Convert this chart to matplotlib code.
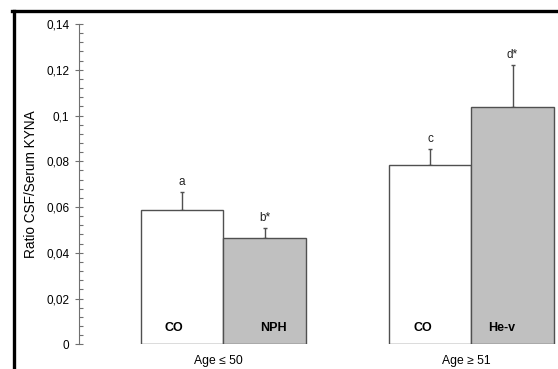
import matplotlib.pyplot as plt
from matplotlib.lines import Line2D
from matplotlib.ticker import MultipleLocator, FuncFormatter

plt.rcParams['font.family'] = ['Liberation Sans', 'DejaVu Sans']

groups = ['Age \u2264 50', 'Age \u2265 51']
bar_names = ['CO', 'NPH', 'CO', 'He-v']
ratio = [0.0588, 0.0464, 0.0783, 0.1037]
sem = [0.0077, 0.0045, 0.0069, 0.0182]
letters = ['a', 'b*', 'c', 'd*']
fills = ['white', '#c0c0c0', 'white', '#c0c0c0']

width = 0.333
xpos = [0 - width / 2, 0 + width / 2, 1 - width / 2, 1 + width / 2]
name_shift = [-0.032, 0.036, -0.03, -0.045]

fig = plt.figure(figsize=(5.58, 3.69), dpi=100)
ax = fig.add_axes([79 / 558, 1 - 344.3 / 369, 1 - 79 / 558, (344.3 - 24) / 369])

ax.bar(xpos, ratio, width=width, color=fills, edgecolor='#505050', linewidth=1.0, zorder=2)
ax.errorbar(xpos, ratio, yerr=[[0] * 4, sem], fmt='none', ecolor='#505050',
            elinewidth=1.0, capsize=1.5, capthick=1.0, zorder=1)

for x, v, e, t in zip(xpos, ratio, sem, letters):
    ax.annotate(t, (x, v + e), xytext=(0, 3), textcoords='offset points',
                ha='center', va='bottom', fontsize=8.5, color='#222222')

for x, dx, name in zip(xpos, name_shift, bar_names):
    ax.text(x + dx, 0.0043, name, ha='center', va='bottom', fontsize=9,
            fontweight='bold', color='black')

ax.set_xlim(-0.582, 1.35)
ax.set_ylim(0, 0.14)
ax.set_xticks([-0.02, 0.98])
ax.set_xticklabels(groups, fontsize=8.7)
ax.tick_params(axis='x', length=0, pad=7.5)

ax.yaxis.set_major_locator(MultipleLocator(0.02))
ax.yaxis.set_minor_locator(MultipleLocator(0.004))
ax.yaxis.set_major_formatter(FuncFormatter(lambda v, p: ('%g' % round(v, 3)).replace('.', ',')))
ax.tick_params(axis='y', which='major', direction='inout', length=6, width=0.8,
               color='#707070', labelsize=8.5, pad=4)
ax.tick_params(axis='y', which='minor', direction='in', length=3, width=0.8, color='#707070')
ax.set_ylabel('Ratio CSF/Serum KYNA', fontsize=9.8, labelpad=6)

for s in ['top', 'right', 'bottom']:
    ax.spines[s].set_visible(False)
ax.spines['left'].set_color('#707070')
ax.spines['left'].set_linewidth(0.8)

# thick frame on the left and top of the figure
fig.add_artist(Line2D([13.5 / 558, 13.5 / 558], [0, 1 - 11 / 369], color='black', lw=2.4))
fig.add_artist(Line2D([12.3 / 558, 1], [1 - 11 / 369, 1 - 11 / 369], color='black', lw=2.4))

fig.savefig('out.png', dpi=100)
